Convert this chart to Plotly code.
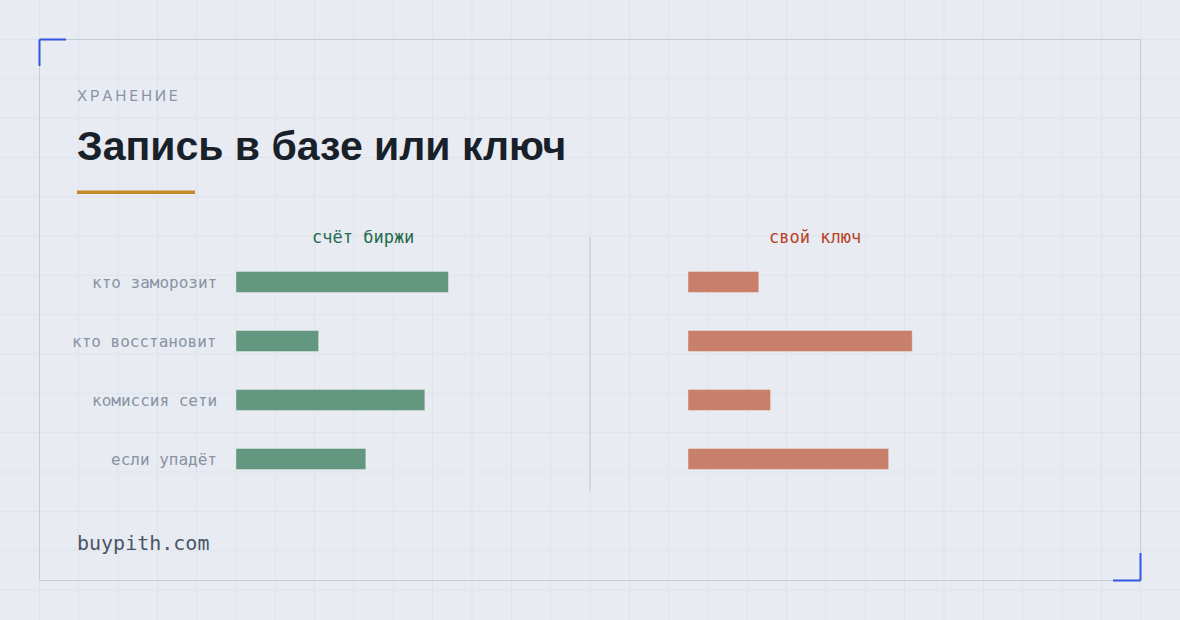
import plotly.graph_objects as go

W, H = 1180, 620

# data
categories = ["кто заморозит", "кто восстановит", "комиссия сети", "если упадёт"]
exchange_scores = [9, 3.5, 8, 5.5]
own_key_scores = [3, 9.5, 3.5, 8.5]
panel_titles = ["счёт биржи", "свой ключ"]

BG = "#e8ebf2"
GRID = "#dfe3eb"
MUTED = "#8893a3"
MONO = "DejaVu Sans Mono, Liberation Mono, monospace"


def px(x):
    return x / W


def py(y):
    return 1 - y / H


fig = go.Figure()

fig.add_trace(go.Bar(
    y=categories, x=exchange_scores, orientation="h",
    xaxis="x", yaxis="y", width=0.36,
    marker=dict(color="#64977f", line=dict(color="rgba(255,255,255,0.35)", width=1)),
    showlegend=False,
))
fig.add_trace(go.Bar(
    y=categories, x=own_key_scores, orientation="h",
    xaxis="x2", yaxis="y2", width=0.36,
    marker=dict(color="#c8806c", line=dict(color="rgba(255,255,255,0.35)", width=1)),
    showlegend=False,
))

x_range = [0, 10.76]
y_dom = [py(488.5), py(252.5)]
axis_off = dict(visible=False, showgrid=False, zeroline=False, fixedrange=True)

fig.update_layout(
    width=W, height=H,
    margin=dict(l=0, r=0, t=0, b=0),
    paper_bgcolor=BG, plot_bgcolor="rgba(0,0,0,0)",
    xaxis=dict(domain=[px(236), px(490)], range=x_range, anchor="y", **axis_off),
    xaxis2=dict(domain=[px(688), px(942)], range=x_range, anchor="y2", **axis_off),
    yaxis=dict(domain=y_dom, anchor="x", range=[3.5, -0.5],
               categoryorder="array", categoryarray=categories, **axis_off),
    yaxis2=dict(domain=y_dom, anchor="x2", range=[3.5, -0.5],
                categoryorder="array", categoryarray=categories, **axis_off),
)

shapes = []
# background grid
step = W / 30
for k in range(1, 30):
    shapes.append(dict(type="line", xref="paper", yref="paper", layer="below",
                       x0=px(k * step), x1=px(k * step), y0=0, y1=1,
                       line=dict(color=GRID, width=1)))
for k in range(1, 16):
    shapes.append(dict(type="line", xref="paper", yref="paper", layer="below",
                       x0=0, x1=1, y0=py(k * step), y1=py(k * step),
                       line=dict(color=GRID, width=1)))

# frame
shapes.append(dict(type="rect", xref="paper", yref="paper", layer="below",
                   x0=px(39.5), x1=px(1140.5), y0=py(580.5), y1=py(39.5),
                   line=dict(color="#c6cdd9", width=1)))
# blue corners
blue = dict(color="#3355e6", width=2)
for x0, y0, x1, y1 in [(39.5, 39.5, 66, 39.5), (39.5, 39.5, 39.5, 66),
                       (1113, 580.5, 1140.5, 580.5), (1140.5, 553, 1140.5, 580.5)]:
    shapes.append(dict(type="line", xref="paper", yref="paper",
                       x0=px(x0), y0=py(y0), x1=px(x1), y1=py(y1), line=blue))
# gold underline
shapes.append(dict(type="rect", xref="paper", yref="paper",
                   x0=px(77), x1=px(195), y0=py(194), y1=py(190.5),
                   fillcolor="#c48a24", line=dict(width=0)))
# divider
shapes.append(dict(type="line", xref="paper", yref="paper",
                   x0=px(590), x1=px(590), y0=py(237), y1=py(492),
                   line=dict(color="#d2d8e1", width=2)))

annotations = [
    dict(text="\u2009".join("ХРАНЕНИЕ"), x=px(75), y=py(96), xanchor="left", yanchor="middle",
         font=dict(family="Inter, DejaVu Sans, sans-serif", size=15, color=MUTED)),
    dict(text="Запись в базе или ключ", x=px(75), y=py(146), xanchor="left", yanchor="middle",
         font=dict(family="Liberation Sans, Arial, sans-serif", size=41, color="#18202a", weight=700)),
    dict(text="buypith.com", x=px(75), y=py(543), xanchor="left", yanchor="middle",
         font=dict(family=MONO, size=20, color="#4a5566")),
    dict(text=panel_titles[0], xref="x domain", x=0.5, y=py(237), yref="paper",
         xanchor="center", yanchor="middle",
         font=dict(family=MONO, size=17, color="#1f6b4c")),
    dict(text=panel_titles[1], xref="x2 domain", x=0.5, y=py(237), yref="paper",
         xanchor="center", yanchor="middle",
         font=dict(family=MONO, size=17, color="#b8421f")),
]
for cat in categories:
    annotations.append(dict(text=cat, xref="paper", x=px(219), yref="y", y=cat,
                            xanchor="right", yanchor="middle",
                            font=dict(family=MONO, size=16, color=MUTED)))
for a in annotations:
    a.setdefault("xref", "paper")
    a.setdefault("yref", "paper")
    a["showarrow"] = False

fig.update_layout(shapes=shapes, annotations=annotations)

fig.write_html("out.html", config={"displayModeBar": False},
               post_script="document.body.style.margin='0';")
